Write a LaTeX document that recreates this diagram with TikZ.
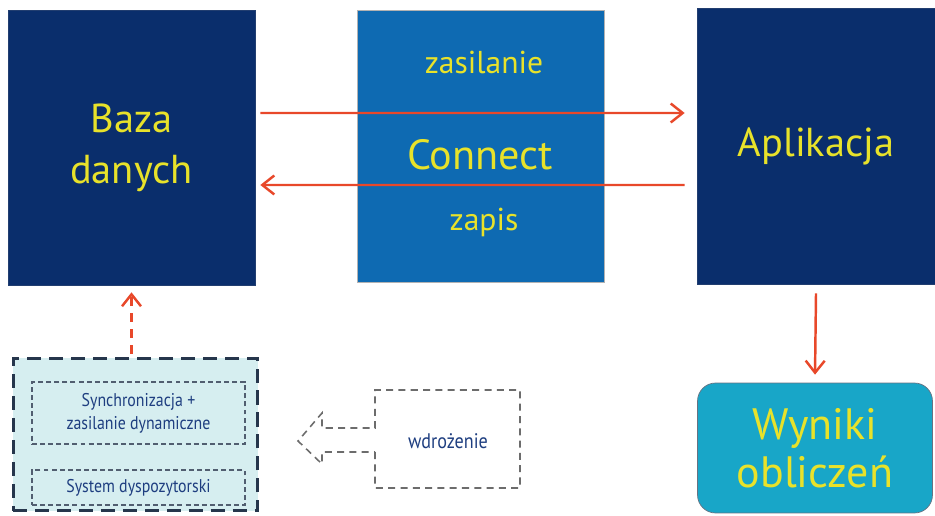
\documentclass[tikz,border=0pt]{standalone}
\usepackage{fontspec}
\setmainfont{PT Sans}
\newfontfamily\narrowfont[FakeStretch=0.86]{PT Sans}
\usetikzlibrary{arrows.meta, positioning, calc}
\definecolor{navyblue}{RGB}{10,46,108}
\definecolor{connectblue}{RGB}{14,106,178}
\definecolor{resultcyan}{RGB}{24,166,200}
\definecolor{labelyellow}{RGB}{232,226,42}
\definecolor{flowred}{RGB}{232,72,42}
\definecolor{panelfill}{RGB}{214,238,240}
\definecolor{paneledge}{RGB}{38,54,76}
\definecolor{paneltext}{RGB}{30,62,128}
\tikzset{
	every node/.style={
		align=center,
	},
}
\tikzstyle{dark-box}=[rectangle, fill=navyblue, draw=navyblue!80!gray, text=labelyellow, minimum width=4.94cm, minimum height=5.5cm, font=\fontsize{23}{29}\selectfont]
\tikzstyle{mid-box}=[rectangle, fill=connectblue, draw=gray!60, text=labelyellow, minimum width=4.94cm, minimum height=5.44cm]
\tikzstyle{result-box}=[rectangle, rounded corners=0.36cm, fill=resultcyan, draw=paneledge!70, text=labelyellow, minimum width=4.7cm, minimum height=2.6cm, font=\fontsize{25}{27}\selectfont]
\tikzstyle{panel}=[rectangle, fill=panelfill, draw=paneledge, line width=1.7pt, dash pattern=on 8pt off 4.5pt, minimum width=4.9cm, minimum height=3.06cm]
\tikzstyle{sub-panel}=[rectangle, draw=paneledge!80, line width=0.9pt, dash pattern=on 2.8pt off 1.8pt, text=paneltext, minimum width=4.26cm, font=\narrowfont\fontsize{10.5}{13}\selectfont]
\tikzstyle{flow}=[-{Straight Barb[length=2.4mm, width=3.8mm]}, line width=1.4pt, flowred]
\tikzstyle{sync-flow}=[flow, dash pattern=on 5pt off 4pt]
\tikzstyle{rollout}=[draw=gray!85!black, line width=0.9pt, dash pattern=on 4pt off 3pt]

\begin{document}
\begin{tikzpicture}[x=0.02cm, y=-0.02cm]
    \useasboundingbox (0,0) rectangle (935,516);

    \node (baza) [dark-box] at (131.5,147.5) {Baza\\danych};
    \node (conn) [mid-box, right = 2.04cm of baza, yshift=0.03cm] {};
    \node (apl) [dark-box, minimum width=4.76cm, minimum height=5.52cm] at (816,146) {Aplikacja};
    \node (wyn) [result-box] at (815,448) {Wyniki\\obliczeń};

    \node (zas) [text=labelyellow, font=\fontsize{18}{20}\selectfont] at (484,62) {zasilanie};
    \node (cnt) [text=labelyellow, font=\fontsize{24}{28}\selectfont] at (480,155) {Connect};
    \node (zap) [text=labelyellow, font=\fontsize{18}{20}\selectfont] at (484,222) {zapis};

    \node (big) [panel] at (135.5,434.5) {};
    \node (sync) [sub-panel, minimum height=1.24cm] at (138.5,413) {Synchronizacja +\\zasilanie dynamiczne};
    \node (disp) [sub-panel, minimum height=0.7cm] at (138.5,487.5) {System dyspozytorski};

    \node (wdr) [text=paneltext, font=\narrowfont\fontsize{12}{14}\selectfont] at (448,441) {wdrożenie};
    \draw [rollout] (375,452) -- (375,488) -- (520,488) -- (520,390) -- (375,390) -- (375,428)
        -- (322,428) -- (322,413) -- (298,441) -- (322,464) -- (322,452) -- cycle;

    \draw [flow] ([xshift=0.1cm, yshift=0.69cm] baza.east) -- ([xshift=-0.24cm, yshift=0.66cm] apl.west);
    \draw [flow] ([xshift=-0.24cm, yshift=-0.78cm] apl.west) -- ([xshift=0.1cm, yshift=-0.75cm] baza.east);
    \draw [flow] ([yshift=-0.18cm] apl.south) -- ([yshift=0.16cm] wyn.north);
    \draw [sync-flow] ([yshift=0.06cm] baza.south |- big.north) -- ([yshift=-0.14cm] baza.south);
\end{tikzpicture}
\end{document}
